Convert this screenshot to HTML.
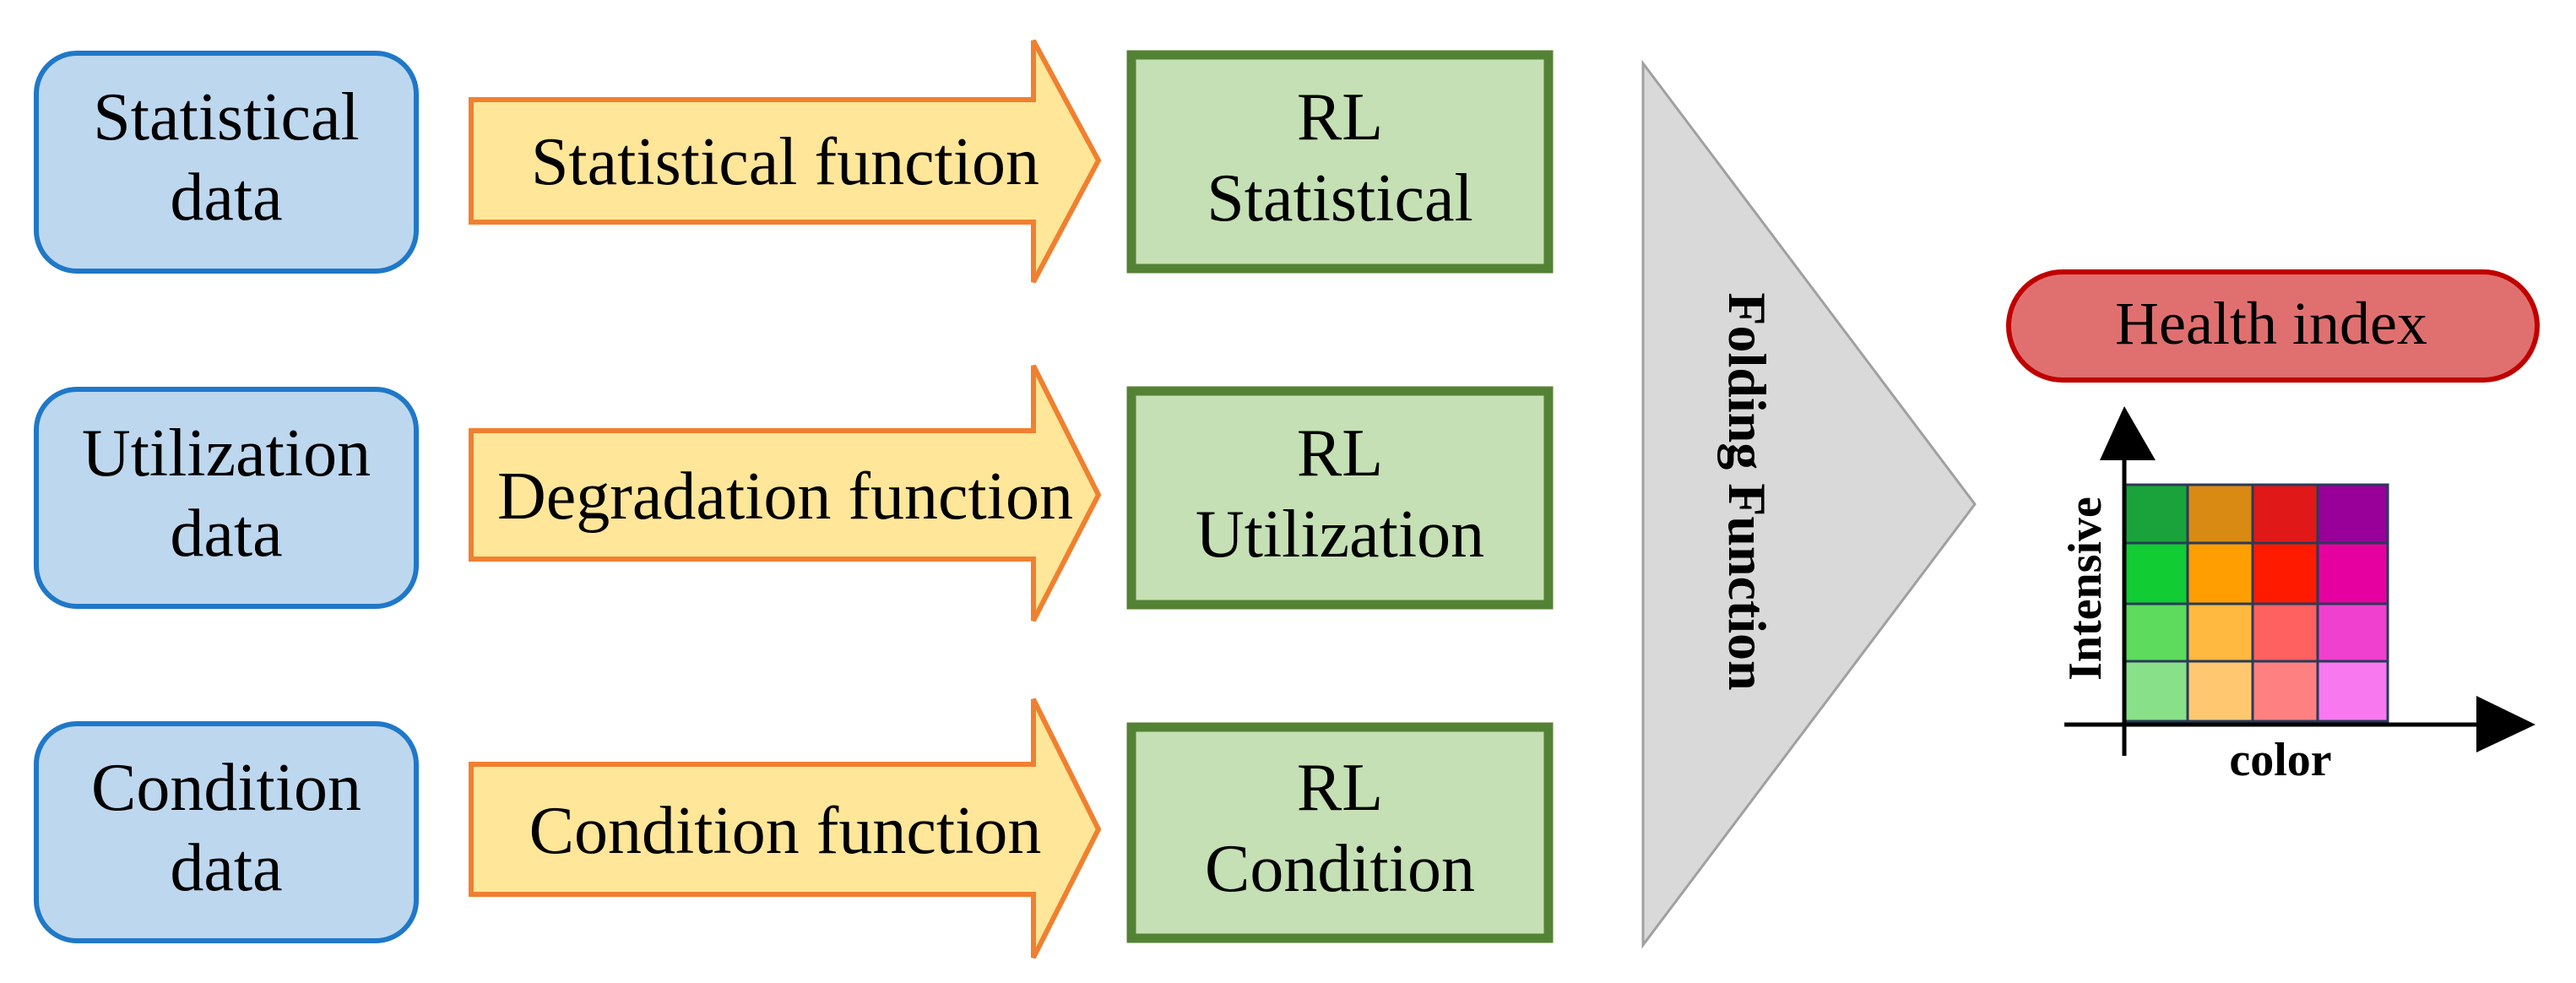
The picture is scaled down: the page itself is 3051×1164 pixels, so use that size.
<!DOCTYPE html>
<html><head><meta charset="utf-8"><style>
html,body{margin:0;padding:0;background:#fff;}
svg{display:block;}
text{font-family:"Liberation Serif",serif;}
</style></head><body>
<svg width="3051" height="1164" viewBox="0 0 3051 1164" xmlns="http://www.w3.org/2000/svg">
<g fill="#bdd7ee" stroke="#1f78c8" stroke-width="6">
<rect x="43" y="63" width="450" height="258" rx="48"/>
<rect x="43" y="461" width="450" height="257" rx="48"/>
<rect x="43" y="857" width="450" height="257" rx="48"/>
</g>
<g fill="#ffe699" stroke="#f08030" stroke-width="6" stroke-linejoin="miter">
<polygon points="558,118 1224,118 1224,48 1301,190 1224,334 1224,263 558,263"/>
<polygon points="558,510 1224,510 1224,433 1301,586 1224,735 1224,662 558,662"/>
<polygon points="558,905 1224,905 1224,828 1301,982 1224,1134 1224,1059 558,1059"/>
</g>
<g fill="#c5e0b4" stroke="#548235" stroke-width="11">
<rect x="1340" y="65" width="494" height="253"/>
<rect x="1340" y="463" width="494" height="253"/>
<rect x="1340" y="861" width="494" height="250"/>
</g>
<g font-size="80" fill="#000" text-anchor="middle">
<text x="268" y="165">Statistical</text><text x="268" y="260">data</text>
<text x="268" y="563">Utilization</text><text x="268" y="658">data</text>
<text x="268" y="959">Condition</text><text x="268" y="1054">data</text>
<text x="930" y="218">Statistical function</text>
<text x="930" y="614">Degradation function</text>
<text x="930" y="1010">Condition function</text>
<text x="1587" y="165">RL</text><text x="1587" y="261">Statistical</text>
<text x="1587" y="563">RL</text><text x="1587" y="659">Utilization</text>
<text x="1587" y="959">RL</text><text x="1587" y="1055">Condition</text>
</g>
<polygon points="1946,75 2339,597 1946,1119" fill="#d9d9d9" stroke="#a0a0a0" stroke-width="3"/>
<text transform="translate(2048,582) rotate(90)" font-size="64" font-weight="bold" text-anchor="middle">Folding Function</text>
<rect x="2379" y="322" width="626" height="128" rx="64" fill="#e07070" stroke="#c00000" stroke-width="6"/>
<text x="2690" y="407" font-size="72" text-anchor="middle">Health index</text>
<g stroke="#2a3a5a" stroke-width="3">
<rect x="2516" y="574" width="75" height="69" fill="#1aa33a"/>
<rect x="2591" y="574" width="77" height="69" fill="#d98a12"/>
<rect x="2668" y="574" width="77" height="69" fill="#e01818"/>
<rect x="2745" y="574" width="83" height="69" fill="#990099"/>
<rect x="2516" y="643" width="75" height="72" fill="#11cc33"/>
<rect x="2591" y="643" width="77" height="72" fill="#ff9e00"/>
<rect x="2668" y="643" width="77" height="72" fill="#ff1a00"/>
<rect x="2745" y="643" width="83" height="72" fill="#e600a0"/>
<rect x="2516" y="715" width="75" height="68" fill="#5cdb5c"/>
<rect x="2591" y="715" width="77" height="68" fill="#ffb840"/>
<rect x="2668" y="715" width="77" height="68" fill="#ff6060"/>
<rect x="2745" y="715" width="83" height="68" fill="#f040d0"/>
<rect x="2516" y="783" width="75" height="71" fill="#88e088"/>
<rect x="2591" y="783" width="77" height="71" fill="#ffc870"/>
<rect x="2668" y="783" width="77" height="71" fill="#ff8080"/>
<rect x="2745" y="783" width="83" height="71" fill="#f878f0"/>
</g>
<g stroke="#000" stroke-width="5">
<line x1="2516" y1="540" x2="2516" y2="895"/>
<line x1="2445" y1="858" x2="2940" y2="858"/>
</g>
<polygon points="2516,481 2553,545 2487,545" fill="#000"/>
<polygon points="3003,858 2933,824 2933,891" fill="#000"/>
<text transform="translate(2488,697) rotate(-90)" font-size="56" font-weight="bold" text-anchor="middle">Intensive</text>
<text x="2701" y="918" font-size="56" font-weight="bold" text-anchor="middle">color</text>
</svg>
</body></html>
